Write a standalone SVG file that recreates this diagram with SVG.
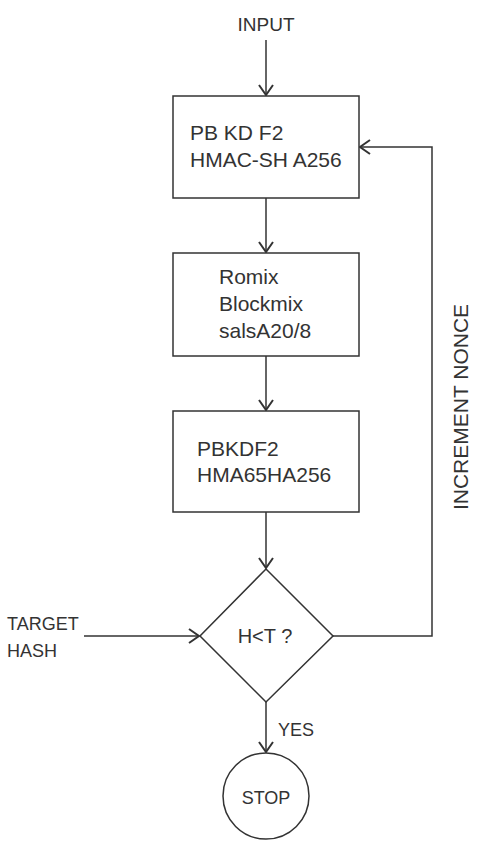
<svg xmlns="http://www.w3.org/2000/svg" width="484" height="856" viewBox="0 0 484 856">
<defs>
<style>
.s{fill:#fff;stroke:#333;stroke-width:1.5}
.c{fill:none;stroke:#333;stroke-width:1.5}
text{font-family:"Liberation Sans",Arial,sans-serif;font-size:18px;fill:#333}
.b{font-size:21px}
</style>
<marker id="a" markerWidth="16" markerHeight="16" viewBox="0 0 16 16" refX="12" refY="8" orient="auto" markerUnits="userSpaceOnUse">
<path d="M2,1 L12,8 L2,15" fill="none" stroke="#333" stroke-width="2"/>
</marker>
</defs>
<rect width="484" height="856" fill="#fff"/>
<g id="connectors">
<line class="c" x1="266" y1="40" x2="266" y2="95" marker-end="url(#a)"/>
<line class="c" x1="266" y1="198" x2="266" y2="252" marker-end="url(#a)"/>
<line class="c" x1="266" y1="356" x2="266" y2="410" marker-end="url(#a)"/>
<line class="c" x1="266" y1="512" x2="266" y2="568" marker-end="url(#a)"/>
<line class="c" x1="84" y1="636" x2="199" y2="636" marker-end="url(#a)"/>
<polyline class="c" points="333,636 432,636 432,147 360,147" marker-end="url(#a)"/>
<line class="c" x1="266" y1="702" x2="266" y2="752" marker-end="url(#a)"/>
</g>
<g id="input"><text x="266" y="31" text-anchor="middle" style="font-size:19px">INPUT</text></g>
<g id="box1">
<rect class="s" x="173" y="96" width="186" height="102"/>
<text class="b" x="190" y="140">PB KD F2</text>
<text class="b" x="190" y="167">HMAC-SH A256</text>
</g>
<g id="box2">
<rect class="s" x="173" y="253" width="186" height="103"/>
<text class="b" x="219" y="284">Romix</text>
<text class="b" x="219" y="311">Blockmix</text>
<text class="b" x="219" y="338">salsA20/8</text>
</g>
<g id="box3">
<rect class="s" x="173" y="411" width="186" height="101"/>
<text class="b" x="197" y="456">PBKDF2</text>
<text class="b" x="197" y="482">HMA65HA256</text>
</g>
<g id="target">
<text x="7" y="630">TARGET</text>
<text x="7" y="657">HASH</text>
</g>
<g id="decision">
<polygon class="s" points="266,569 333,636 266,702 200,636"/>
<text x="265" y="643" text-anchor="middle" style="font-size:20px">H&lt;T ?</text>
</g>
<g id="loop-label"><text class="b" transform="translate(468,407) rotate(-90)" text-anchor="middle">INCREMENT NONCE</text></g>
<g id="yes"><text x="278" y="736">YES</text></g>
<g id="stop">
<circle class="s" cx="266" cy="796" r="43"/>
<text x="266" y="804" text-anchor="middle">STOP</text>
</g>
</svg>
